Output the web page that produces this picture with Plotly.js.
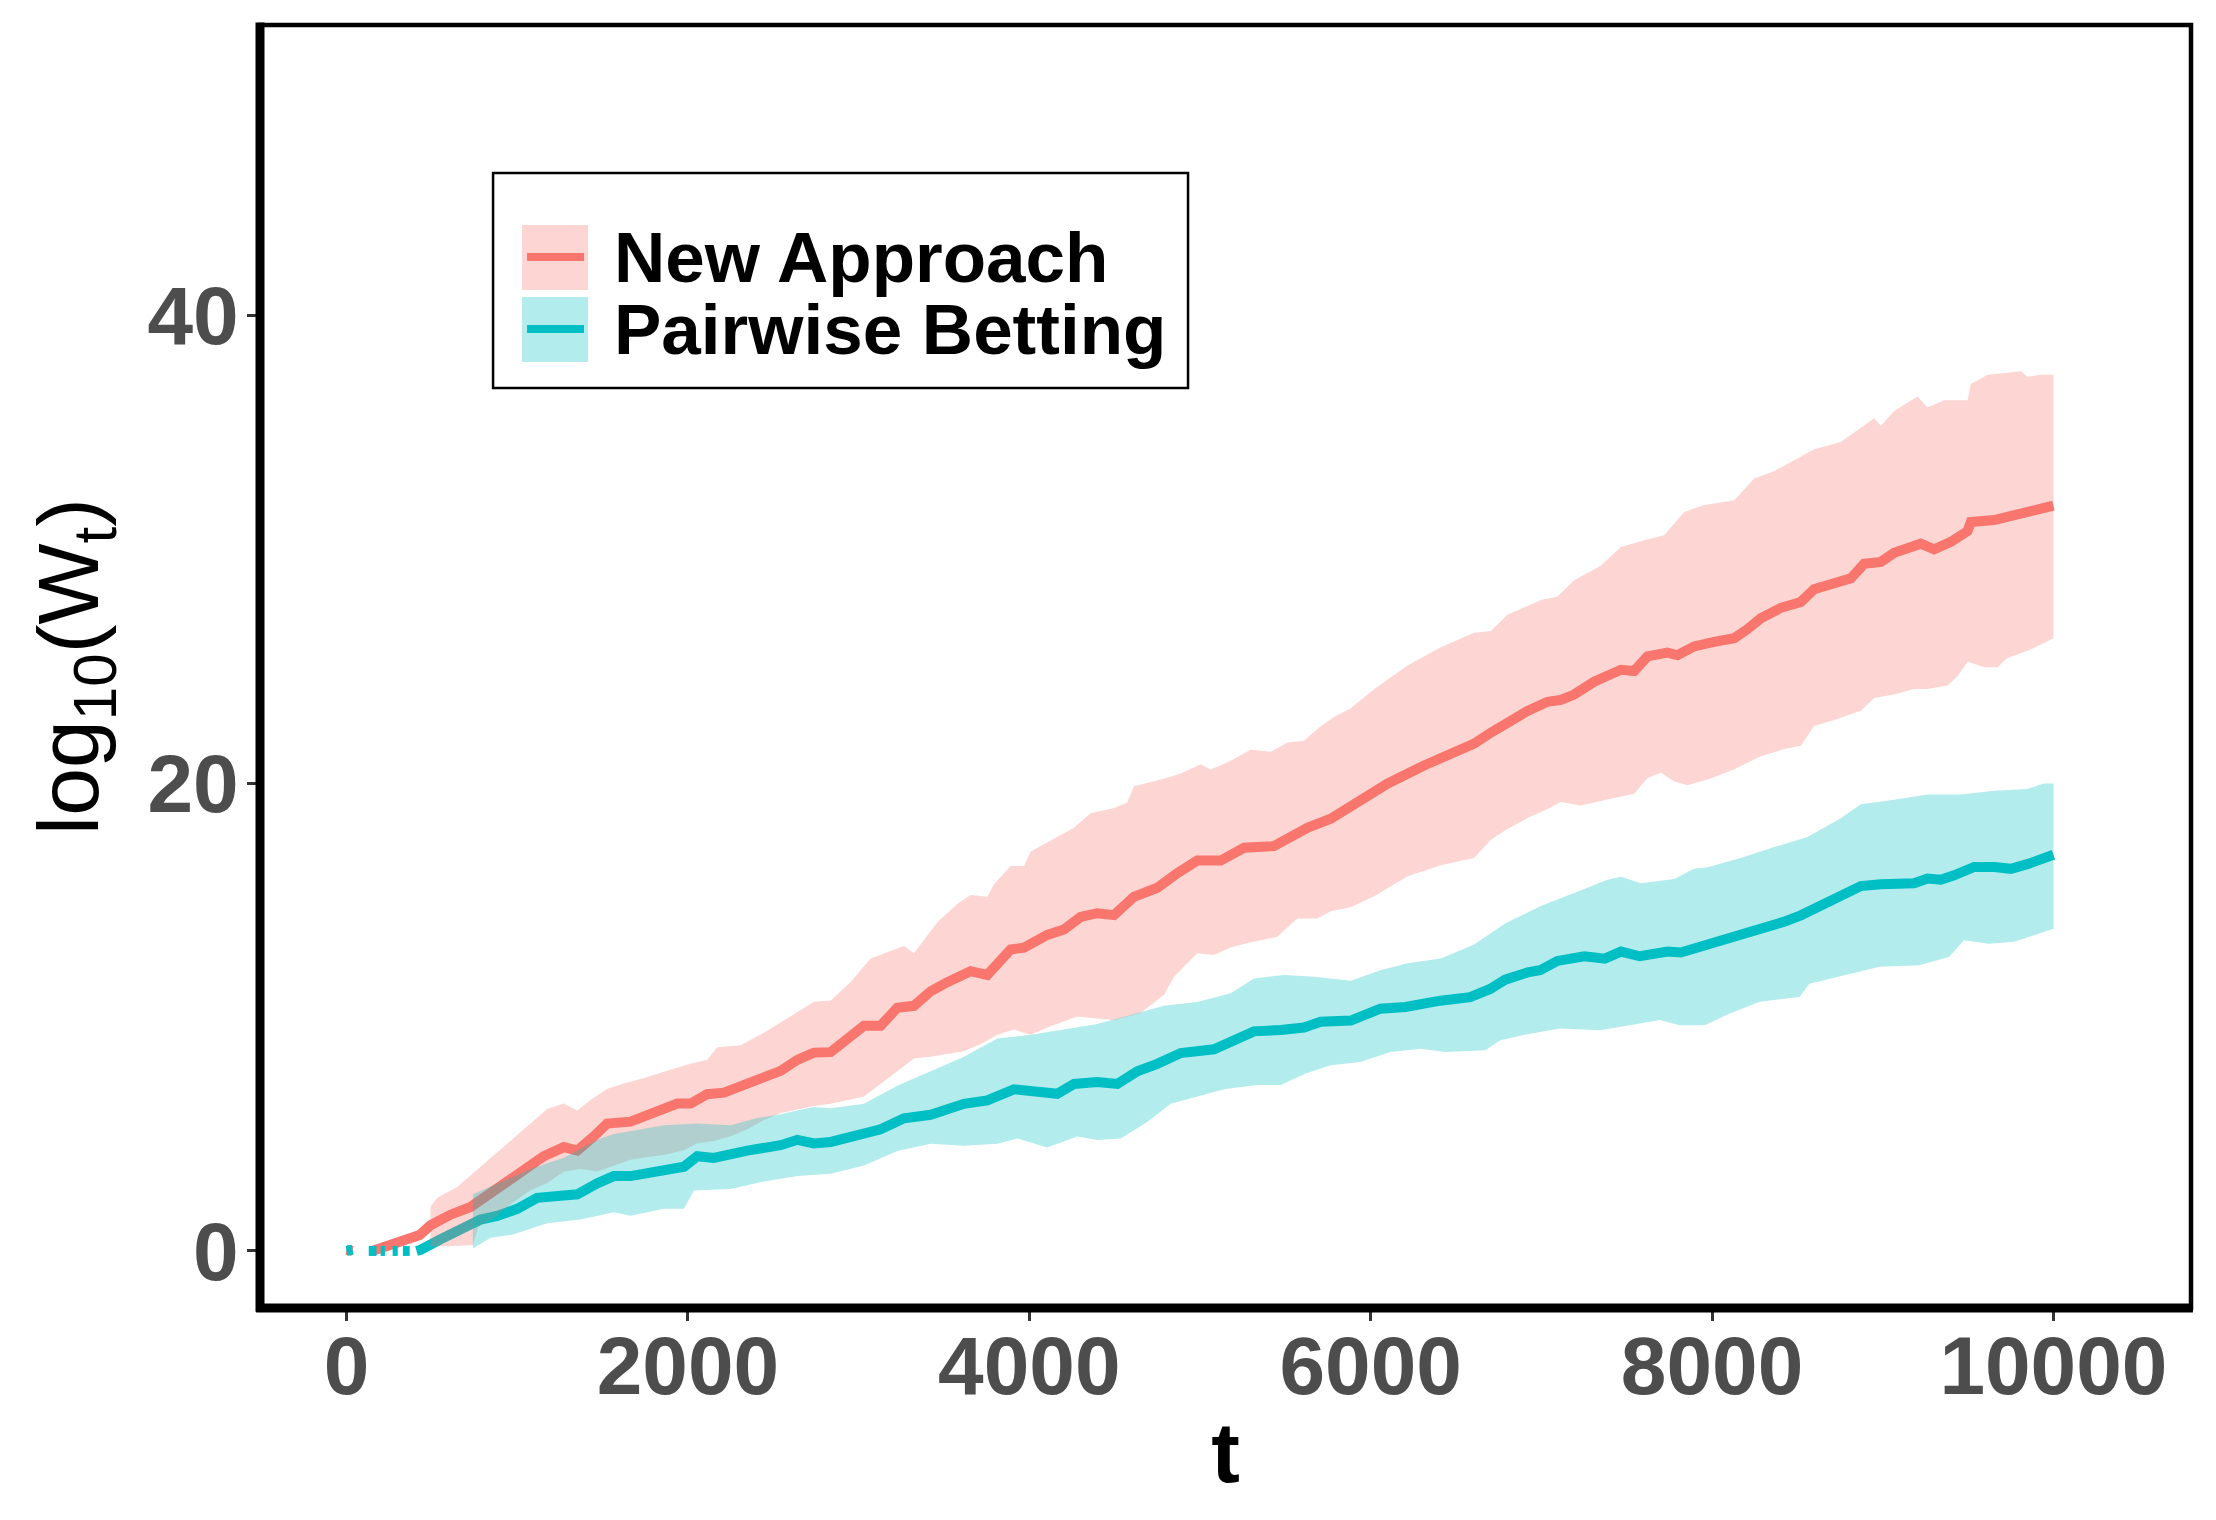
<!DOCTYPE html>
<html>
<head>
<meta charset="utf-8">
<script src="https://cdn.plot.ly/plotly-3.0.1.min.js"></script>
<style>html,body{margin:0;padding:0;background:#fff;}#chart{width:2216px;height:1520px;}</style>
</head>
<body>
<div id="chart"></div>
<script>
// ---- Data ----
const seriesNames = ["New Approach", "Pairwise Betting"];
const xTicks = [0, 2000, 4000, 6000, 8000, 10000];
const yTicks = [0, 20, 40];

// New Approach: mean line
const newT = [0, 35, 90, 150, 270, 350, 428, 492, 609, 727, 844, 961, 1078, 1156, 1273, 1352, 1449, 1527, 1664, 1742, 1859, 1938, 2016, 2113, 2211, 2348, 2445, 2543, 2641, 2738, 2836, 2953, 3031, 3129, 3227, 3324, 3422, 3520, 3656, 3754, 3891, 3969, 4105, 4203, 4301, 4398, 4496, 4613, 4750, 4867, 4984, 5121, 5258, 5433, 5531, 5629, 5766, 5883, 6098, 6313, 6430, 6606, 6704, 6801, 6919, 7036, 7114, 7192, 7309, 7466, 7544, 7622, 7739, 7797, 7895, 8012, 8130, 8208, 8286, 8403, 8520, 8598, 8715, 8813, 8891, 8989, 9067, 9165, 9223, 9301, 9399, 9497, 9516, 9653, 9770, 9848, 9926, 10000];
const newMean = [0.05, 0, null, 0, 0.33, 0.45, 0.68, 1.1, 1.55, 1.88, 2.5, 3.1, 3.66, 4.05, 4.44, 4.29, 4.9, 5.45, 5.53, 5.76, 6.15, 6.3, 6.3, 6.7, 6.77, 7.16, 7.47, 7.7, 8.17, 8.48, 8.5, 9.1, 9.63, 9.63, 10.4, 10.48, 11.1, 11.49, 11.96, 11.8, 12.89, 12.97, 13.51, 13.74, 14.28, 14.44, 14.36, 15.14, 15.53, 16.15, 16.69, 16.69, 17.24, 17.31, 17.7, 18.09, 18.48, 19.0, 19.98, 20.76, 21.15, 21.69, 22.16, 22.62, 23.09, 23.48, 23.56, 23.79, 24.34, 24.85, 24.8, 25.42, 25.58, 25.47, 25.85, 26.04, 26.2, 26.59, 27.05, 27.5, 27.75, 28.3, 28.61, 28.76, 29.38, 29.46, 29.85, 30.16, 30.24, 30.0, 30.32, 30.78, 31.17, 31.25, 31.48, 31.56, 31.71, 31.87];

// New Approach: band upper / lower
const newUpT = [492, 531, 648, 746, 824, 961, 1078, 1176, 1273, 1352, 1430, 1527, 1625, 1742, 1879, 2016, 2113, 2172, 2309, 2445, 2602, 2738, 2836, 2953, 3070, 3188, 3266, 3324, 3461, 3578, 3656, 3754, 3793, 3891, 3969, 4008, 4164, 4262, 4359, 4496, 4574, 4613, 4789, 4887, 5004, 5062, 5180, 5297, 5414, 5512, 5609, 5707, 5785, 5883, 6020, 6216, 6411, 6606, 6704, 6801, 6997, 7094, 7192, 7348, 7466, 7602, 7719, 7837, 7954, 8130, 8247, 8364, 8481, 8598, 8754, 8872, 8950, 8989, 9067, 9204, 9262, 9360, 9497, 9516, 9614, 9712, 9809, 9848, 9926, 10000];
const newUp = [1.9, 2.27, 2.73, 3.35, 3.82, 4.67, 5.45, 6.07, 6.3, 6.0, 6.46, 6.93, 7.16, 7.39, 7.7, 8.0, 8.17, 8.71, 8.79, 9.33, 10.03, 10.65, 10.71, 11.5, 12.5, 12.81, 13.04, 12.73, 14.05, 14.83, 15.22, 15.14, 15.68, 16.46, 16.46, 17.08, 17.7, 18.09, 18.71, 18.94, 19.18, 19.87, 20.19, 20.42, 20.81, 20.57, 20.96, 21.43, 21.35, 21.74, 21.82, 22.44, 22.83, 23.2, 24.02, 25.03, 25.81, 26.43, 26.51, 27.2, 27.83, 27.98, 28.68, 29.3, 30.1, 30.39, 30.6, 31.6, 31.9, 32.1, 33.03, 33.35, 33.81, 34.28, 34.59, 35.21, 35.6, 35.28, 35.91, 36.53, 36.06, 36.37, 36.37, 37.07, 37.46, 37.54, 37.61, 37.38, 37.46, 37.46];
const newLoT = [492, 600, 740, 770, 883, 961, 1078, 1176, 1273, 1371, 1469, 1566, 1664, 1742, 1859, 1977, 2055, 2152, 2250, 2348, 2445, 2543, 2641, 2738, 2836, 3031, 3227, 3324, 3422, 3617, 3715, 3813, 3910, 4008, 4105, 4281, 4398, 4496, 4652, 4789, 4848, 4984, 5082, 5180, 5297, 5453, 5570, 5687, 5766, 5883, 6020, 6216, 6411, 6606, 6704, 6801, 6919, 7036, 7114, 7231, 7387, 7544, 7622, 7700, 7778, 7856, 7993, 8130, 8286, 8423, 8520, 8598, 8715, 8872, 8950, 9067, 9184, 9262, 9379, 9438, 9497, 9594, 9672, 9731, 9848, 10000];
const newLo = [0.2, 0.2, 0.25, 1.0, 1.5, 2.0, 2.6, 2.9, 3.4, 3.5, 3.4, 3.66, 3.9, 4.0, 4.1, 4.3, 4.6, 4.7, 4.9, 5.2, 5.6, 5.9, 6.05, 6.2, 6.29, 6.6, 7.68, 8.23, 8.3, 8.54, 8.85, 9.24, 9.47, 9.24, 9.55, 10.02, 9.94, 9.86, 10.17, 10.95, 11.72, 12.73, 12.65, 12.97, 13.2, 13.43, 14.21, 14.21, 14.52, 14.7, 15.17, 16.02, 16.49, 16.8, 17.58, 18.04, 18.51, 18.9, 19.2, 19.05, 19.3, 19.55, 20.22, 20.45, 20.07, 19.91, 20.2, 20.6, 21.15, 21.46, 21.6, 22.45, 22.7, 23.1, 23.64, 23.79, 24.03, 24.03, 24.18, 24.57, 25.19, 24.96, 24.96, 25.35, 25.66, 26.2];

// Pairwise Betting: mean line
const pairT = [0, 35, 80, 130, 175, 190, 200, 225, 250, 270, 300, 315, 330, 370, 390, 410, 434, 551, 688, 785, 883, 1000, 1117, 1234, 1352, 1469, 1566, 1664, 1859, 1977, 2055, 2152, 2348, 2543, 2641, 2738, 2836, 2953, 3031, 3129, 3266, 3422, 3617, 3754, 3910, 4047, 4164, 4262, 4398, 4516, 4633, 4750, 4887, 5082, 5219, 5316, 5473, 5609, 5707, 5883, 6057, 6204, 6408, 6583, 6700, 6788, 6919, 6992, 7094, 7251, 7372, 7466, 7577, 7739, 7817, 7928, 8071, 8168, 8286, 8423, 8520, 8618, 8735, 8872, 8989, 9106, 9184, 9262, 9340, 9418, 9536, 9653, 9751, 9856, 9926, 10000];
const pairMean = [0, 0.05, null, 0, 0, null, 0, 0, null, 0, 0, null, 0, 0, null, 0, 0.05, 0.5, 1.0, 1.34, 1.5, 1.8, 2.27, 2.35, 2.42, 2.89, 3.2, 3.2, 3.43, 3.6, 4.05, 3.98, 4.29, 4.52, 4.75, 4.6, 4.66, 4.9, 5.04, 5.2, 5.67, 5.82, 6.29, 6.44, 6.91, 6.83, 6.72, 7.14, 7.22, 7.14, 7.68, 8.0, 8.46, 8.62, 9.08, 9.39, 9.45, 9.55, 9.8, 9.85, 10.36, 10.43, 10.7, 10.85, 11.2, 11.6, 11.91, 12.0, 12.4, 12.6, 12.5, 12.8, 12.6, 12.8, 12.76, 13.0, 13.23, 13.5, 13.8, 14.08, 14.35, 14.7, 15.1, 15.6, 15.68, 15.64, 15.72, 15.92, 15.87, 16.06, 16.42, 16.42, 16.34, 16.56, 16.73, 16.94];

// Pairwise Betting: band upper / lower
const pairUpT = [740, 883, 1078, 1273, 1469, 1566, 1859, 2055, 2250, 2406, 2543, 2641, 2738, 2836, 3031, 3227, 3422, 3617, 3813, 4008, 4203, 4398, 4594, 4789, 4984, 5180, 5316, 5492, 5668, 5766, 5883, 6057, 6216, 6411, 6606, 6788, 6997, 7192, 7387, 7466, 7583, 7778, 7895, 7973, 8168, 8364, 8559, 8754, 8872, 9067, 9262, 9458, 9653, 9848, 9944, 10000];
const pairUp = [2.42, 2.89, 3.5, 3.98, 4.75, 5.0, 5.37, 5.45, 5.37, 5.68, 5.84, 6.0, 6.15, 6.1, 6.29, 7.06, 7.68, 8.3, 9.08, 9.24, 9.47, 9.7, 10.09, 10.48, 10.64, 11.02, 11.65, 11.8, 11.72, 11.65, 11.55, 12.0, 12.3, 12.5, 13.1, 14.0, 14.75, 15.3, 15.87, 16.0, 15.72, 15.9, 16.34, 16.41, 16.8, 17.27, 17.7, 18.5, 19.1, 19.29, 19.52, 19.52, 19.68, 19.75, 19.99, 19.99];
const pairLoT = [740, 844, 980, 1176, 1371, 1566, 1664, 1859, 1977, 2035, 2250, 2445, 2641, 2836, 3031, 3227, 3422, 3617, 3813, 3930, 4105, 4281, 4398, 4535, 4691, 4828, 4984, 5141, 5336, 5473, 5619, 5765, 5940, 6116, 6291, 6437, 6671, 6759, 6934, 7109, 7343, 7518, 7694, 7811, 7957, 8103, 8278, 8512, 8570, 8746, 8980, 9213, 9388, 9476, 9622, 9768, 9885, 10000];
const pairLo = [0.1, 0.56, 0.71, 1.18, 1.34, 1.65, 1.5, 1.8, 1.8, 2.58, 2.65, 2.97, 3.2, 3.3, 3.65, 4.27, 4.58, 4.5, 4.58, 4.81, 4.42, 4.89, 4.74, 4.81, 5.51, 6.29, 6.6, 6.91, 7.1, 7.09, 7.59, 7.94, 8.08, 8.51, 8.65, 8.51, 8.58, 9.01, 9.29, 9.51, 9.44, 9.65, 9.87, 9.65, 9.65, 10.15, 10.65, 10.86, 11.43, 11.72, 12.15, 12.22, 12.57, 13.29, 13.14, 13.22, 13.5, 13.78];

// ---- Styles ----
const redLine = "#F8766D", cyanLine = "#00BFC4";
const redFill = "rgba(248,118,109,0.3)", cyanFill = "rgba(0,191,196,0.3)";
const FONT = "Liberation Sans, Arial, sans-serif";

function band(tu, yu, tl, yl) {
  return {
    x: tu.concat(tl.slice().reverse()),
    y: yu.concat(yl.slice().reverse())
  };
}
const bNew = band(newUpT, newUp, newLoT, newLo);
const bPair = band(pairUpT, pairUp, pairLoT, pairLo);

const traces = [
  {x: newT, y: newMean, type: "scatter", mode: "lines", name: seriesNames[0],
   line: {color: redLine, width: 10}, connectgaps: false, showlegend: false, hoverinfo: "skip"},
  {x: pairT, y: pairMean, type: "scatter", mode: "lines", name: seriesNames[1],
   line: {color: cyanLine, width: 10}, connectgaps: false, showlegend: false, hoverinfo: "skip"},
  {x: bNew.x, y: bNew.y, type: "scatter", mode: "lines", fill: "toself", fillcolor: redFill,
   line: {width: 0, color: "rgba(0,0,0,0)"}, showlegend: false, hoverinfo: "skip"},
  {x: bPair.x, y: bPair.y, type: "scatter", mode: "lines", fill: "toself", fillcolor: cyanFill,
   line: {width: 0, color: "rgba(0,0,0,0)"}, showlegend: false, hoverinfo: "skip"}
];

// legend geometry (paper coords)
const L = {x0: 0.1207, x1: 0.4806, y0: 0.7171, y1: 0.8846};
const shapes = [
  // panel border
  {type: "rect", xref: "paper", yref: "paper", x0: 0, x1: 1, y0: 0, y1: 1,
   line: {color: "black", width: 4.5}, layer: "above"},
  // axis lines (thicker)
  {type: "line", xref: "paper", yref: "paper", x0: 0, x1: 0, y0: -0.003, y1: 1.002,
   line: {color: "black", width: 9}, layer: "above"},
  {type: "line", xref: "paper", yref: "paper", x0: -0.002, x1: 1.001, y0: 0, y1: 0,
   line: {color: "black", width: 9}, layer: "above"},
  // legend box
  {type: "rect", xref: "paper", yref: "paper", x0: L.x0, x1: L.x1, y0: L.y0, y1: L.y1,
   line: {color: "black", width: 2.5}, fillcolor: "white", layer: "above"},
  // legend keys
  {type: "rect", xref: "paper", yref: "paper", x0: 0.1357, x1: 0.1699, y0: 0.7935, y1: 0.8441,
   line: {width: 0}, fillcolor: redFill, layer: "above"},
  {type: "line", xref: "paper", yref: "paper", x0: 0.1383, x1: 0.1678, y0: 0.8192, y1: 0.8192,
   line: {color: redLine, width: 8}, layer: "above"},
  {type: "rect", xref: "paper", yref: "paper", x0: 0.1357, x1: 0.1699, y0: 0.7373, y1: 0.7880,
   line: {width: 0}, fillcolor: cyanFill, layer: "above"},
  {type: "line", xref: "paper", yref: "paper", x0: 0.1383, x1: 0.1678, y0: 0.7631, y1: 0.7631,
   line: {color: cyanLine, width: 8}, layer: "above"}
];

const annotations = [
  {xref: "paper", yref: "paper", x: 0.1823, y: 0.8184, xanchor: "left", yanchor: "middle",
   text: seriesNames[0], showarrow: false,
   font: {family: FONT, size: 71, color: "black", weight: "bold"}},
  {xref: "paper", yref: "paper", x: 0.1823, y: 0.7623, xanchor: "left", yanchor: "middle",
   text: seriesNames[1], showarrow: false,
   font: {family: FONT, size: 71, color: "black", weight: "bold"}}
];

const tickFont = {family: FONT, size: 82, color: "#4D4D4D", weight: "bold"};

const layout = {
  width: 2216, height: 1520,
  margin: {l: 260, r: 25, t: 25, b: 212, pad: 0},
  paper_bgcolor: "white", plot_bgcolor: "white",
  showlegend: false,
  font: {family: FONT},
  xaxis: {
    range: [-507, 10806], tickmode: "array", tickvals: xTicks, ticktext: xTicks.map(String),
    ticks: "outside", ticklen: 12, tickwidth: 3, tickcolor: "#333333",
    showgrid: false, zeroline: false, showline: false,
    tickfont: tickFont, ticklabelstandoff: -25,
    title: {text: "t", font: {family: FONT, size: 86, color: "black", weight: "bold"}, standoff: 11}
  },
  yaxis: {
    range: [-2.44, 52.42], tickmode: "array", tickvals: yTicks, ticktext: yTicks.map(String),
    ticks: "outside", ticklen: 12, tickwidth: 3, tickcolor: "#333333",
    showgrid: false, zeroline: false, showline: false,
    tickfont: tickFont, ticklabelstandoff: -8,
    title: {text: "log<sub>10</sub>(W<sub>t</sub>)", font: {family: FONT, size: 86, color: "black"}, standoff: 20}
  },
  shapes: shapes,
  annotations: annotations
};

Plotly.newPlot("chart", traces, layout, {displayModeBar: false, staticPlot: true});
</script>
</body>
</html>
